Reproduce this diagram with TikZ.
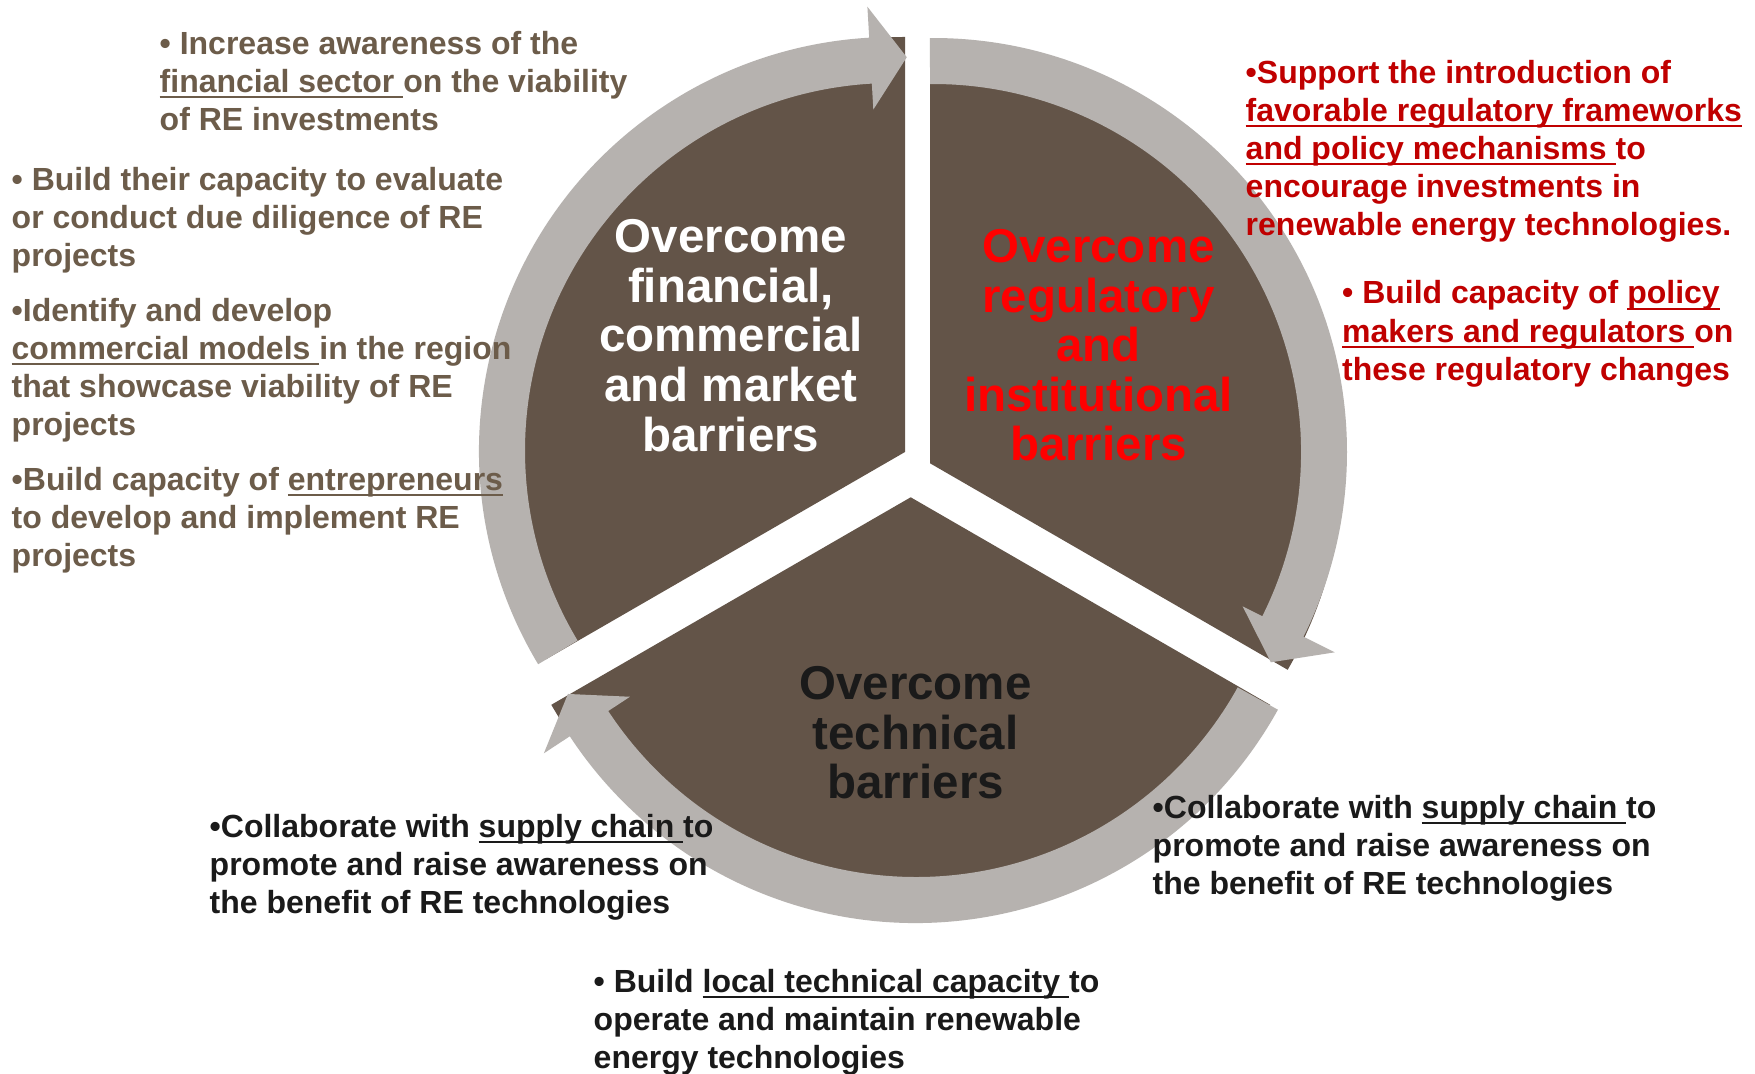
\documentclass[tikz,border=0pt]{standalone}
\usepackage{fontspec}
\setmainfont{Liberation Sans}
\definecolor{sector}{RGB}{99,84,72}
\definecolor{ring}{RGB}{182,178,175}
\definecolor{txtbrown}{RGB}{108,92,74}
\definecolor{darkred}{RGB}{192,0,0}
\definecolor{brightred}{RGB}{255,0,0}
\definecolor{txtblack}{RGB}{26,26,26}
\newsavebox\ulbox
\newcommand\myul[1]{\sbox\ulbox{#1}\rlap{\rule[-1.6pt]{\wd\ulbox}{0.6pt}}\usebox\ulbox}
\newcommand\bodystrut{\rule{0pt}{9.1pt}}
\newcommand\titlestrut{\rule{0pt}{13.5pt}}
% arc arrow: #1,#2 = arc centre, #3 = tail angle, #4 = head base angle,
% #5 = tip angle, #6 = tip radius
\newcommand\cyclearrow[6]{%
  \begin{scope}[shift={(#1,#2)}]
    \fill[arrowfill] (#3:414) arc[start angle=#3, end angle=#4, radius=414]
      -- (#4:{#6+51}) -- (#5:#6) -- (#4:{#6-52}) -- (#4:368)
      arc[start angle=#4, end angle=#3, radius=368] -- cycle;
  \end{scope}}
\begin{document}
\begin{tikzpicture}[x=0.01cm,y=0.01cm,
  sectorfill/.style={fill=sector},
  arrowfill/.style={fill=ring},
  body/.style={inner sep=0pt, anchor=north west, align=left,
    font=\fontsize{9.1}{10.81}\selectfont\bfseries},
  title/.style={inner sep=0pt, anchor=north, align=center,
    font=\fontsize{13.5}{14.11}\selectfont\bfseries}]
\useasboundingbox[fill=white] (0,0) rectangle (1755,-1074);
% pie sectors
\fill[sectorfill] (905,-452) -- ++(90:415) arc[start angle=90,end angle=210,radius=415] -- cycle;
\fill[sectorfill] (930,-463.3) -- ++(-30:413) arc[start angle=-30,end angle=90,radius=413] -- cycle;
\fill[sectorfill] (910.7,-497.3) -- ++(210:415) arc[start angle=210,end angle=330,radius=415] -- cycle;
% circular arrows
\cyclearrow{893}{-451}{211}{93.3}{88}{394}
\cyclearrow{933}{-452}{90.45}{-26.5}{-31.9}{398}
\cyclearrow{915.8}{-509}{-29}{-146.7}{-152}{394}
% sector titles
\node[title, text=white] (tfin) at (731,-204.55) {\titlestrut Overcome\\financial,\\commercial\\and market\\barriers};
\node[title, text=brightred] (treg) at (1098.5,-214.25) {\titlestrut Overcome\\regulatory\\and\\institutional\\barriers};
\node[title, text=txtblack] (ttech) at (915.5,-651.25) {\titlestrut Overcome\\technical\\barriers};
% financial bullets
\node[body, text=txtbrown] (fa) at (159,-21.5) {\bodystrut• Increase awareness of the\\\myul{financial sector }on the viability\\of RE investments};
\node[body, text=txtbrown] (fb) at (11,-158) {\bodystrut• Build their capacity to evaluate\\or conduct due diligence of RE\\projects};
\node[body, text=txtbrown] (fc) at (11,-289) {\bodystrut•Identify and develop\\\myul{commercial models }in the region\\that showcase viability of RE\\projects};
\node[body, text=txtbrown] (fd) at (11,-458) {\bodystrut•Build capacity of \myul{entrepreneurs}\\to develop and implement RE\\projects};
% regulatory bullets
\node[body, text=darkred] (ra) at (1245,-50.7) {\bodystrut•Support the introduction of\\\myul{favorable regulatory frameworks}\\\myul{and policy mechanisms }to\\encourage investments in\\renewable energy technologies.};
\node[body, text=darkred] (rb) at (1341.5,-271.3) {\bodystrut• Build capacity of \myul{policy}\\\myul{makers and regulators }on\\these regulatory changes};
% technical bullets
\node[body, text=txtblack] (ta) at (209,-805) {\bodystrut•Collaborate with \myul{supply chain }to\\promote and raise awareness on\\the benefit of RE technologies};
\node[body, text=txtblack] (tb) at (1152,-786) {\bodystrut•Collaborate with \myul{supply chain }to\\promote and raise awareness on\\the benefit of RE technologies};
\node[body, text=txtblack] (tc) at (593,-959.5) {\bodystrut• Build \myul{local technical capacity }to\\operate and maintain renewable\\energy technologies};
\end{tikzpicture}
\end{document}
